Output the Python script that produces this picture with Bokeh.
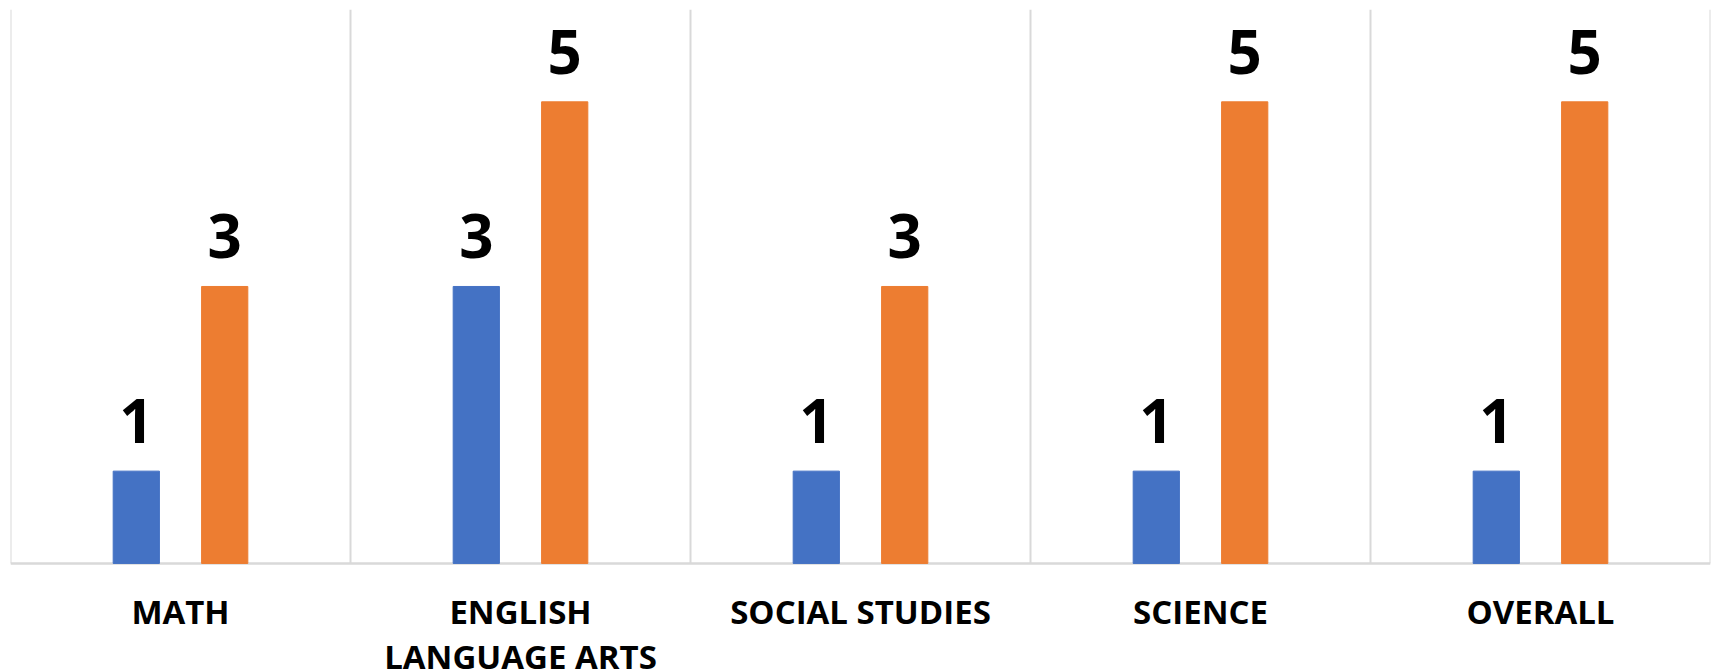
from bokeh.plotting import figure
from bokeh.models import ColumnDataSource, Range1d
from bokeh.core.properties import value
from bokeh.embed import file_html
from bokeh.resources import INLINE

categories = ["MATH", "ENGLISH LANGUAGE ARTS", "SOCIAL STUDIES", "SCIENCE", "OVERALL"]
tick_labels = ["MATH", "ENGLISH\nLANGUAGE ARTS", "SOCIAL STUDIES", "SCIENCE", "OVERALL"]
series_blue = [1, 3, 1, 1, 1]
series_orange = [3, 5, 3, 5, 5]
y_max = 6

BLUE = "#4472C4"
ORANGE = "#ED7D31"
GRID = "#D9D9D9"

offset = 0.13
bar_w = 0.136
n = len(categories)

centers = [i + 0.5 for i in range(n)]
src_blue = ColumnDataSource(dict(x=[c - offset for c in centers], top=series_blue,
                                 lbl=[str(v) for v in series_blue]))
src_orange = ColumnDataSource(dict(x=[c + offset for c in centers], top=series_orange,
                                   lbl=[str(v) for v in series_orange]))
src_cat = ColumnDataSource(dict(x=centers, y=[0] * n, lbl=tick_labels))

p = figure(width=1716, height=672, output_backend="svg", toolbar_location=None,
           x_range=Range1d(0, n), y_range=Range1d(-1.181, y_max),
           min_border_left=10, min_border_right=6, min_border_top=9, min_border_bottom=0)

p.xaxis.visible = False
p.yaxis.visible = False
p.xgrid.visible = False
p.ygrid.visible = False
p.outline_line_color = None

# vertical separators and baseline
bounds = list(range(n + 1))
p.segment(x0=bounds, y0=[0] * (n + 1), x1=bounds, y1=[y_max] * (n + 1),
          line_color=GRID, line_width=2)
p.segment(x0=[0], y0=[0], x1=[n], y1=[0], line_color=GRID, line_width=2.5)

p.vbar(x="x", top="top", width=bar_w, bottom=0, source=src_blue, color=BLUE)
p.vbar(x="x", top="top", width=bar_w, bottom=0, source=src_orange, color=ORANGE)

for src in (src_blue, src_orange):
    p.text(x="x", y="top", text="lbl", source=src, y_offset=-50,
           text_align="center", text_baseline="alphabetic",
           text_font=value("Open Sans"), text_font_style="bold",
           text_font_size="60px", text_color="black")

p.text(x="x", y="y", text="lbl", source=src_cat, y_offset=26,
       text_align="center", text_baseline="top",
       text_font=value("Open Sans"), text_font_style="bold",
       text_font_size="33px", text_color="black", text_line_height=1.0)

p.background_fill_color = "white"
p.border_fill_color = "white"

open("out.html", "w").write(file_html(p, INLINE))
